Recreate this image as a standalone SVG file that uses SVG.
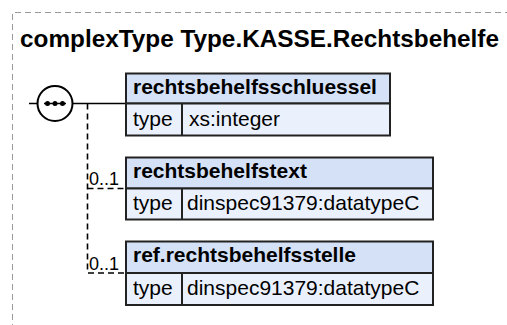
<svg xmlns="http://www.w3.org/2000/svg" width="507" height="325" viewBox="0 0 507 325">
<style>
.t{font-family:"Liberation Sans",Arial,sans-serif;fill:#000}
.b{font-weight:bold}
.hd{fill:#d5e1f7;stroke:#222;stroke-width:2}
.rw{fill:#ebf1fc;stroke:#222;stroke-width:2}
.sl{stroke:#000;stroke-width:1.5;fill:none}
.ds{stroke:#000;stroke-width:1.6;fill:none;stroke-dasharray:6,4}
</style>
<rect x="0" y="0" width="507" height="325" fill="#fff"/>
<g id="frame">
<path d="M12.5 340 V12.5 H520" fill="none" stroke="#999" stroke-width="1" stroke-dasharray="6,4"/>
<text class="t b" x="20" y="47" font-size="24" textLength="479" lengthAdjust="spacingAndGlyphs">complexType Type.KASSE.Rechtsbehelfe</text>
</g>
<g id="connectors">
<path class="sl" d="M29 103.5 H37.5 M72.5 103.5 H125"/>
<path class="ds" d="M87.5 103.5 V273 H125 M87.5 188.5 H125"/>
<text class="t" x="89" y="185" font-size="18">0..1</text>
<text class="t" x="89" y="270" font-size="18">0..1</text>
</g>
<g id="sequence">
<circle cx="55" cy="103.5" r="17.5" fill="#fff" stroke="#000" stroke-width="2"/>
<path d="M44 103.5 H66" stroke="#000" stroke-width="1.5"/>
<circle cx="47.5" cy="103.5" r="2.5"/>
<circle cx="55" cy="103.5" r="2.5"/>
<circle cx="62.5" cy="103.5" r="2.5"/>
</g>
<g id="rechtsbehelfsschluessel">
<rect class="hd" x="126" y="73.5" width="264" height="30"/>
<rect class="rw" x="126" y="103.5" width="264" height="32"/>
<path d="M182 103.5 V135.5" stroke="#222" stroke-width="2"/>
<text class="t b" x="133" y="94" font-size="21">rechtsbehelfsschluessel</text>
<text class="t" x="133" y="126" font-size="21">type</text>
<text class="t" x="189" y="126" font-size="21">xs:integer</text>
</g>
<g id="rechtsbehelfstext">
<rect class="hd" x="126" y="157.5" width="307" height="31"/>
<rect class="rw" x="126" y="188.5" width="307" height="31"/>
<path d="M182 188.5 V219.5" stroke="#222" stroke-width="2"/>
<text class="t b" x="133" y="178" font-size="21">rechtsbehelfstext</text>
<text class="t" x="133" y="210" font-size="21">type</text>
<text class="t" x="187" y="210" font-size="21">dinspec91379:datatypeC</text>
</g>
<g id="ref.rechtsbehelfsstelle">
<rect class="hd" x="126" y="241.5" width="307" height="31.5"/>
<rect class="rw" x="126" y="273" width="307" height="32"/>
<path d="M182 273 V305" stroke="#222" stroke-width="2"/>
<text class="t b" x="133" y="262" font-size="21">ref.rechtsbehelfsstelle</text>
<text class="t" x="133" y="295" font-size="21">type</text>
<text class="t" x="187" y="295" font-size="21">dinspec91379:datatypeC</text>
</g>
</svg>
